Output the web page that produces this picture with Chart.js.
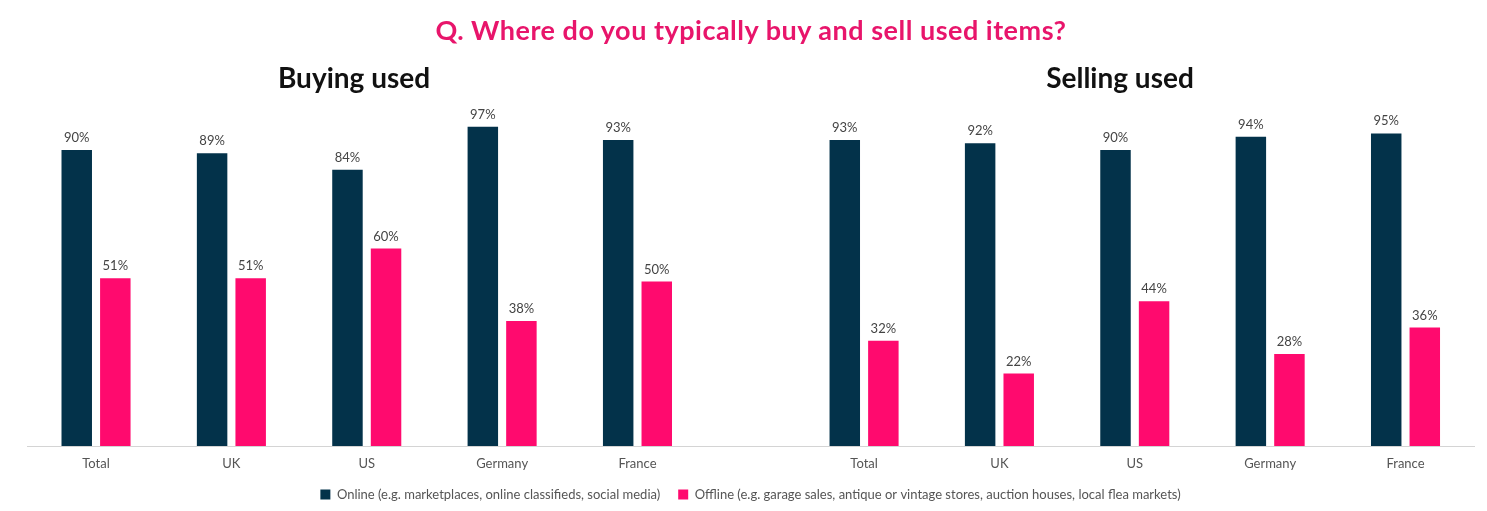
<!DOCTYPE html>
<html>
<head>
<meta charset="utf-8">
<script src="https://cdn.jsdelivr.net/npm/chart.js@4.4.1/dist/chart.umd.min.js"></script>
<style>
    html, body { margin: 0; padding: 0; background: #ffffff; }
    body { width: 1487px; height: 511px; position: relative; overflow: hidden; font-family: Lato, sans-serif; }
    #wrap { position: absolute; left: 0; top: 0; width: 1487px; height: 511px; }
    .head { position: absolute; transform: translate(-50%, -50%); white-space: nowrap; line-height: 1; }
    #question { left: 751px; top: 29px; font-size: 27px; font-weight: 700; letter-spacing: 0.5px; color: #e8156b; }
    .panel { top: 77px; font-size: 28px; font-weight: 700; color: #111111; }
    #buying { left: 354px; }
    #selling { left: 1120px; }
</style>
</head>
<body>
<div id="wrap"><canvas id="usedchart"></canvas></div>
<div class="head" id="question">Q. Where do you typically buy and sell used items?</div>
<div class="head panel" id="buying">Buying used</div>
<div class="head panel" id="selling">Selling used</div>
<script>
"use strict";

var categories = ['Total', 'UK', 'US', 'Germany', 'France'];
var buyingOnline = [90, 89, 84, 97, 93];
var buyingOffline = [51, 51, 60, 38, 50];
var sellingOnline = [93, 92, 90, 94, 95];
var sellingOffline = [32, 22, 44, 28, 36];
var seriesNames = [
    'Online (e.g. marketplaces, online classifieds, social media)',
    'Offline (e.g. garage sales, antique or vintage stores, auction houses, local flea markets)'
];

document.addEventListener("DOMContentLoaded", function () {

    /* the two panels share one x axis, the second one starts after a gap */
    var panelGap = 5.674;
    var positions = [];
    categories.forEach(function (c, i) { positions.push(i); });
    categories.forEach(function (c, i) { positions.push(i + panelGap); });
    var tickLabels = categories.concat(categories);

    function toPoints(first, second) {
        return first.concat(second).map(function (v, i) {
            return { x: positions[i], y: v };
        });
    }

    /* value labels above each bar */
    var barValues = {
        id: 'barValues',
        afterDatasetsDraw: function (chart) {
            var ctx = chart.ctx;
            ctx.save();
            ctx.font = '13px Lato';
            ctx.fillStyle = '#444444';
            ctx.textAlign = 'center';
            ctx.textBaseline = 'alphabetic';
            chart.data.datasets.forEach(function (ds, di) {
                chart.getDatasetMeta(di).data.forEach(function (bar, i) {
                    ctx.fillText(ds.data[i].y + '%', bar.x, bar.y - 8);
                });
            });
            ctx.restore();
        }
    };

    var ctx = document.getElementById('usedchart').getContext('2d');
    var usedChart = new Chart(ctx, {
        type: 'bar',
        data: {
            datasets: [{
                label: seriesNames[0],
                data: toPoints(buyingOnline, sellingOnline),
                backgroundColor: '#03324a',
                borderWidth: 0,
                barPercentage: 0.79,
                categoryPercentage: 0.57
            },
            {
                label: seriesNames[1],
                data: toPoints(buyingOffline, sellingOffline),
                backgroundColor: '#ff0a6e',
                borderWidth: 0,
                barPercentage: 0.79,
                categoryPercentage: 0.57
            }]
        },
        options: {
            responsive: true,
            maintainAspectRatio: false,
            animation: false,
            layout: {
                padding: { left: 27, right: 13, top: 117, bottom: 0 }
            },
            plugins: {
                legend: {
                    display: true,
                    position: 'bottom',
                    labels: {
                        boxWidth: 10,
                        boxHeight: 10,
                        padding: 18,
                        color: '#555555',
                        font: { family: 'Lato', size: 13 }
                    }
                },
                tooltip: { enabled: false }
            },
            scales: {
                x: {
                    type: 'linear',
                    bounds: 'data',
                    offset: false,
                    min: -0.51,
                    max: 10.18,
                    grid: { display: false, drawTicks: false },
                    border: { display: true, color: '#d4d4d4', width: 1 },
                    afterBuildTicks: function (scale) {
                        scale.ticks = positions.map(function (p) { return { value: p }; });
                    },
                    afterFit: function (scale) {
                        scale.height = 24;
                    },
                    ticks: {
                        autoSkip: false,
                        maxRotation: 0,
                        padding: 11,
                        color: '#555555',
                        font: { family: 'Lato', size: 13, lineHeight: 1 },
                        callback: function (value, index) {
                            return tickLabels[index];
                        }
                    }
                },
                y: {
                    display: false,
                    min: 0,
                    max: 100
                }
            }
        },
        plugins: [barValues]
    });

})
</script>
</body>
</html>
